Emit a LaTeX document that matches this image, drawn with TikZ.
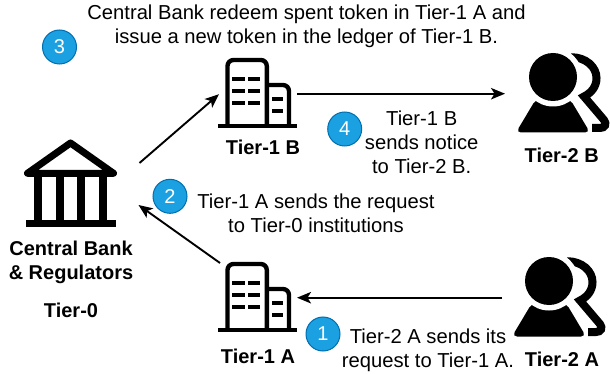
\documentclass[tikz,border=0pt]{standalone}
\usepackage{fontspec}
\setmainfont{Liberation Sans}
\usetikzlibrary{arrows.meta}
\tikzset{
  flow/.style={line width=1.9pt,-{Stealth[length=14pt,width=11.5pt,inset=3.5pt]}},
  iconbox/.style={inner sep=0pt,outer sep=0pt},
  badge/.style={circle,minimum size=34pt,inner sep=0pt,fill=badgefill,draw=badgeline,line width=1pt,text=white,font=\fontsize{20}{22}\selectfont},
  caption/.style={inner sep=0pt,align=center,font=\fontsize{20.2}{24}\selectfont},
  tier/.style={inner sep=0pt,align=center,font=\bfseries\fontsize{20}{24}\selectfont},
  glyph/.style={line width=4.4pt,line join=round},
  win/.style={fill=black,draw=none}
}
\definecolor{badgefill}{HTML}{1BA1E2}
\definecolor{badgeline}{HTML}{006EAF}
\newcommand{\drawbuilding}[1]{%
  \begin{scope}[shift={#1}]
    \draw[glyph,rounded corners=6pt] (227.5,125) -- (227.5,60) -- (266.8,60) -- (266.8,125);
    \draw[glyph,rounded corners=6pt] (266.8,85) -- (289,85) -- (289,125);
    \fill (218,123.7) rectangle (297,127.7);
    \foreach \yy in {76.8,88.8,101.2}{
      \fill[win] (232,\yy) rectangle (245,\yy+4);
      \fill[win] (248,\yy) rectangle (260,\yy+4);
    }
    \fill[win] (272,97) rectangle (283,101);
    \fill[win] (272,109) rectangle (283,113);
  \end{scope}}
\newcommand{\drawperson}[1]{%
  \begin{scope}[shift={#1}]
    \draw[line width=8pt,line cap=butt] (571,57.2) .. controls (586,57.2) and (596.5,67) .. (596.5,78)
      .. controls (596.5,87) and (591,93) .. (584,96.5) -- (604,120)
      .. controls (607,124) and (605,128) .. (600,128) -- (592,128);
    \fill[rounded corners=5pt] (536,99) -- (570,99) -- (590,132.5) -- (516,132.5) -- cycle;
    \fill[white] (553,77) circle (29.5);
    \fill (553,77) circle (24);
  \end{scope}}
\begin{document}
\begin{tikzpicture}[x=1pt,y=-1pt]
\useasboundingbox (0,0) rectangle (610,374);
% icon anchors
\node[iconbox,minimum width=93pt,minimum height=87pt] (cb) at (70.5,182.5) {};
\node[iconbox,minimum width=79pt,minimum height=72pt] (t1b) at (257.5,93.7) {};
\node[iconbox,minimum width=79pt,minimum height=72pt] (t1a) at (257.5,297.7) {};
\node[iconbox,minimum width=94pt,minimum height=80pt] (t2b) at (563,93.7) {};
\node[iconbox,minimum width=94pt,minimum height=80pt] (t2a) at (559,297.7) {};
% bank
\draw[line width=7pt,line join=round] (27.5,173.3) -- (70.5,143) -- (113.5,173.3) -- cycle;
\foreach \xx in {38,60,81,103}{\fill (\xx-4,175) rectangle (\xx+4,221);}
\fill (26,219.5) rectangle (116,226.5);
\drawbuilding{(0,0)}
\drawbuilding{(0,204)}
\drawperson{(0,0)}
\drawperson{(-4,204)}
% connectors
\draw[flow] ([shift={(22.5,24)}]cb.north east) -- ([shift={(1,0.5)}]t1b.west);
\draw[flow] (t1b.east) -- ([xshift=-11pt]t2b.west);
\draw[flow] ([xshift=-10pt]t2a.west) -- (t1a.east);
\draw[flow] ([shift={(2,1.3)}]t1a.north west) -- ([shift={(21.5,22.5)}]cb.east);
% badges
\node[badge] (b3) at (59.5,47) {3};
\node[badge] (b4) at (344.7,129) {4};
\node[badge] (b2) at (170,196.3) {2};
\node[badge] (b1) at (323,334) {1};
% captions
\node[caption] (c3) at (306.5,26) {Central Bank redeem spent token in Tier-1 A and\\issue a new token in the ledger of Tier-1 B.};
\node[caption] (c4) at (421.7,142.5) {Tier-1 B\\sends notice\\to Tier-2 B.};
\node[caption] (c2) at (316,213) {Tier-1 A sends the request\\to Tier-0 institutions};
\node[caption] (c1) at (428,350.5) {Tier-2 A sends its\\request to Tier-1 A.};
% tier labels
\node[tier] (l1b) at (263,147) {Tier-1 B};
\node[tier] (l2b) at (561.7,155) {Tier-2 B};
\node[tier] (l1a) at (258,356) {Tier-1 A};
\node[tier] (l2a) at (562,359) {Tier-2 A};
\node[tier] (lcb) at (71,262) {Central Bank\\\& Regulators};
\node[tier] (l0) at (71,310) {Tier-0};
\end{tikzpicture}
\end{document}
